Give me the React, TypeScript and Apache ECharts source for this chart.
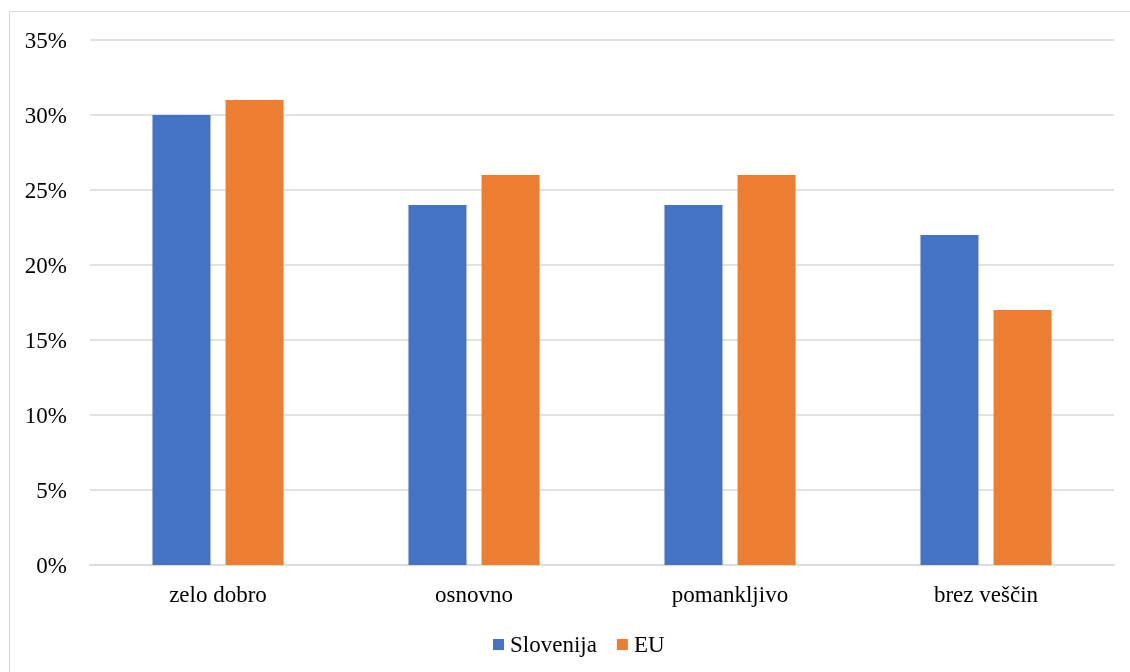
import React, { useEffect, useRef } from "react";
import * as echarts from "echarts";

const categories = ["zelo dobro", "osnovno", "pomankljivo", "brez veščin"];
const slovenija = [30, 24, 24, 22];
const eu = [31, 26, 26, 17];

export default function App() {
  const ref = useRef<HTMLDivElement>(null);
  useEffect(() => {
    const chart = echarts.init(ref.current!, null, { renderer: "svg" });
    const font = "'Liberation Serif', 'Times New Roman', serif";
    chart.setOption({
      animation: false,
      textStyle: { fontFamily: font },
      graphic: [
        {
          type: "rect",
          shape: { x: 9.5, y: 11.5, width: 1140, height: 680 },
          style: { fill: "none", stroke: "#D9D9D9", lineWidth: 1 },
          silent: true,
        },
      ],
      grid: { left: 90, right: 16, top: 40, bottom: 107, containLabel: false },
      legend: {
        bottom: 11,
        left: 488,
        itemWidth: 11,
        itemHeight: 11,
        itemGap: 20,
        itemStyle: { borderWidth: 0 },
        icon: "rect",
        textStyle: { fontFamily: font, fontSize: 23, color: "#000", padding: [0, 0, 0, 1] },
        data: ["Slovenija", "EU"],
      },
      xAxis: {
        type: "category",
        data: categories,
        axisTick: { show: false },
        axisLine: { lineStyle: { color: "#D9D9D9", width: 1.5 } },
        axisLabel: { fontFamily: font, fontSize: 23, color: "#000", margin: 18 },
      },
      yAxis: {
        type: "value",
        min: 0,
        max: 35,
        interval: 5,
        axisLine: { show: false },
        axisTick: { show: false },
        splitLine: { lineStyle: { color: "#D9D9D9", width: 1.5 } },
        axisLabel: {
          fontFamily: font,
          fontSize: 23,
          color: "#000",
          margin: 23,
          formatter: "{value}%",
        },
      },
      series: [
        {
          name: "Slovenija",
          type: "bar",
          data: slovenija,
          barWidth: 58,
          barGap: "26%",
          itemStyle: { color: "#4472C4" },
        },
        {
          name: "EU",
          type: "bar",
          data: eu,
          barWidth: 58,
          itemStyle: { color: "#ED7D31" },
        },
      ],
    });
    return () => chart.dispose();
  }, []);
  return (
    <div
      ref={ref}
      style={{ position: "fixed", left: 0, top: 0, width: 1130, height: 672 }}
    />
  );
}
